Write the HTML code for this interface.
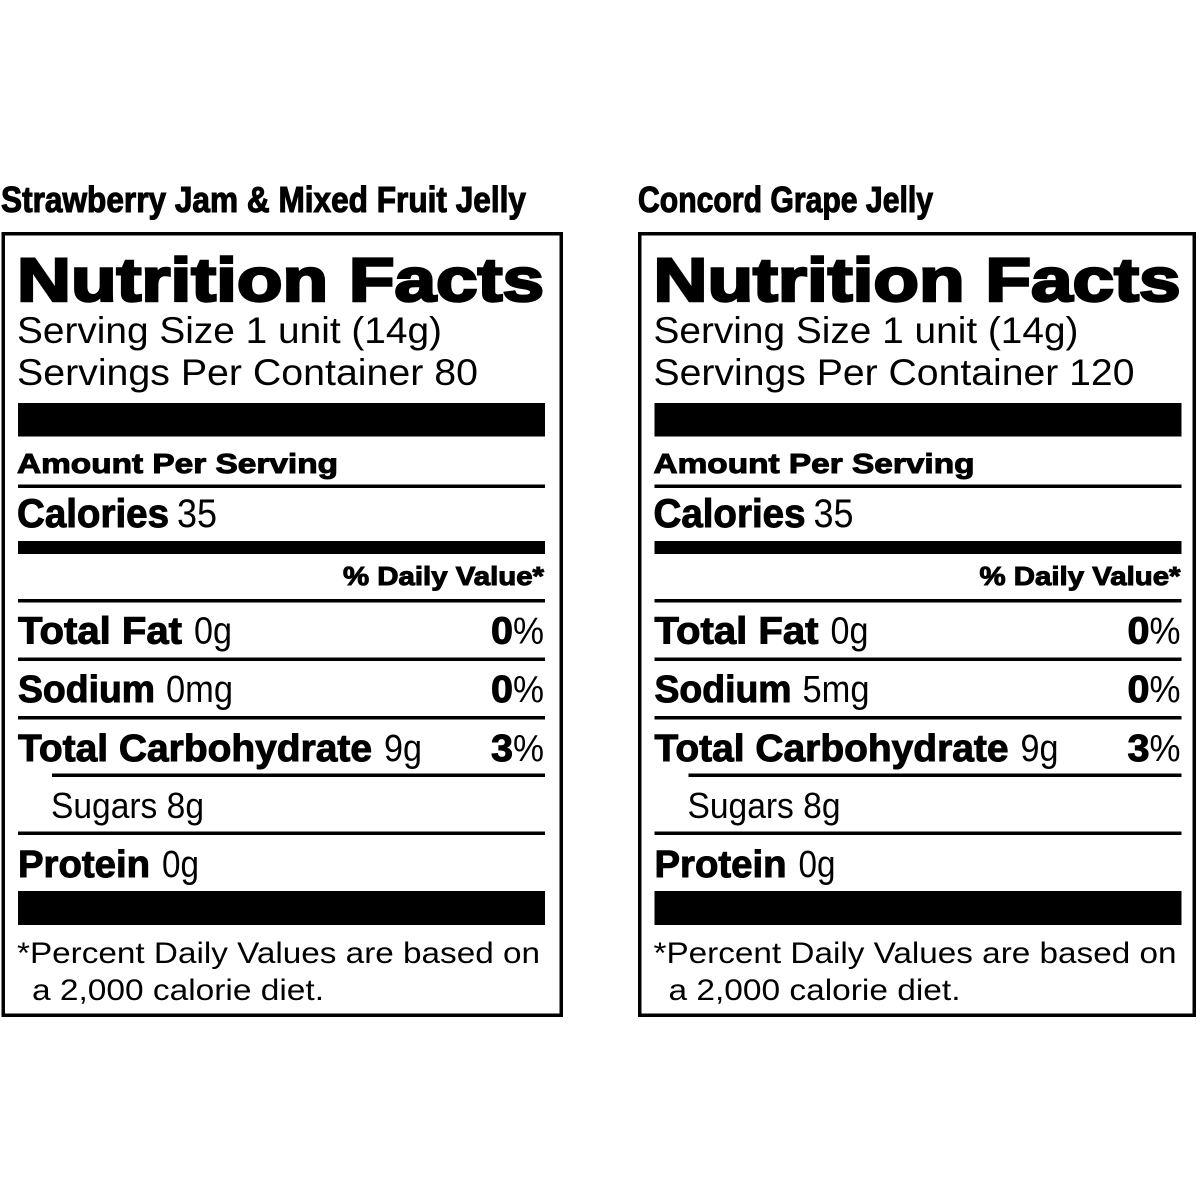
<!DOCTYPE html>
<html>
<head>
<meta charset="utf-8">
<style>
  html, body { margin:0; padding:0; background:#fff; }
  svg { display:block; }
  .b { font-family:"Liberation Sans", Arial, sans-serif; font-weight:bold; fill:#000; stroke:#000; stroke-width:1.0; }
  .r { font-family:"Liberation Sans", Arial, sans-serif; font-weight:normal; fill:#000; }
  .t { font-family:"Liberation Sans Narrow", "Liberation Sans", Arial, sans-serif; font-weight:bold; fill:#000; stroke:#000; stroke-width:1.1; }
</style>
</head>
<body>
<svg width="1200" height="1200" viewBox="0 0 1200 1200" xmlns="http://www.w3.org/2000/svg">
  <rect x="0" y="0" width="1200" height="1200" fill="#fff"/>

  <!-- Titles -->
  <text class="t" x="1" y="212" font-size="36" textLength="525" lengthAdjust="spacingAndGlyphs">Strawberry Jam &amp; Mixed Fruit Jelly</text>
  <text class="t" x="638" y="212" font-size="36" textLength="295" lengthAdjust="spacingAndGlyphs">Concord Grape Jelly</text>

  <!-- Boxes -->
  <rect x="3.25" y="233.75" width="558" height="781.5" fill="none" stroke="#000" stroke-width="3.5"/>
  <rect x="639.75" y="233.75" width="554.5" height="781.5" fill="none" stroke="#000" stroke-width="3.5"/>

  <!-- LEFT PANEL -->
  <g>
    <text class="b" x="17" y="301" font-size="61" textLength="527" lengthAdjust="spacingAndGlyphs" style="stroke-width:2.5">Nutrition Facts</text>
    <text class="r" x="17" y="343" font-size="37" textLength="425" lengthAdjust="spacingAndGlyphs">Serving Size 1 unit (14g)</text>
    <text class="r" x="17" y="385" font-size="37" textLength="461" lengthAdjust="spacingAndGlyphs">Servings Per Container 80</text>
    <rect x="18" y="403" width="527" height="33.5" fill="#000"/>
    <text class="b" x="17" y="473" font-size="28" textLength="321" lengthAdjust="spacingAndGlyphs">Amount Per Serving</text>
    <rect x="18" y="484.5" width="527" height="3.5" fill="#000"/>
    <text class="b" x="17" y="527" font-size="40" textLength="152" lengthAdjust="spacingAndGlyphs">Calories</text>
    <text class="r" x="177" y="527" font-size="40" textLength="40" lengthAdjust="spacingAndGlyphs">35</text>
    <rect x="18" y="541" width="527" height="13" fill="#000"/>
    <text class="b" x="343" y="585" font-size="26" textLength="201" lengthAdjust="spacingAndGlyphs">% Daily Value*</text>
    <rect x="18" y="599" width="527" height="3.5" fill="#000"/>

    <text class="b" x="18" y="643.5" font-size="38" textLength="164" lengthAdjust="spacingAndGlyphs">Total Fat</text>
    <text class="r" x="194" y="643.5" font-size="38" textLength="38" lengthAdjust="spacingAndGlyphs">0g</text>
    <text class="b" x="491" y="643.5" font-size="38" textLength="22" lengthAdjust="spacingAndGlyphs">0</text>
    <text class="r" x="513" y="643.5" font-size="38" textLength="31" lengthAdjust="spacingAndGlyphs">%</text>
    <rect x="18" y="657.5" width="527" height="3.5" fill="#000"/>

    <text class="b" x="18" y="702" font-size="38" textLength="137" lengthAdjust="spacingAndGlyphs">Sodium</text>
    <text class="r" x="166" y="702" font-size="38" textLength="67" lengthAdjust="spacingAndGlyphs">0mg</text>
    <text class="b" x="491" y="702" font-size="38" textLength="22" lengthAdjust="spacingAndGlyphs">0</text>
    <text class="r" x="513" y="702" font-size="38" textLength="31" lengthAdjust="spacingAndGlyphs">%</text>
    <rect x="18" y="716" width="527" height="3.5" fill="#000"/>

    <text class="b" x="18" y="761" font-size="38" textLength="354" lengthAdjust="spacingAndGlyphs">Total Carbohydrate</text>
    <text class="r" x="384" y="761" font-size="38" textLength="38" lengthAdjust="spacingAndGlyphs">9g</text>
    <text class="b" x="491" y="761" font-size="38" textLength="22" lengthAdjust="spacingAndGlyphs">3</text>
    <text class="r" x="513" y="761" font-size="38" textLength="31" lengthAdjust="spacingAndGlyphs">%</text>
    <rect x="52" y="773.5" width="493" height="3.5" fill="#000"/>

    <text class="r" x="51" y="818" font-size="36" textLength="153" lengthAdjust="spacingAndGlyphs">Sugars 8g</text>
    <rect x="18" y="831.5" width="527" height="3.5" fill="#000"/>

    <text class="b" x="18" y="877" font-size="38" textLength="132" lengthAdjust="spacingAndGlyphs">Protein</text>
    <text class="r" x="162" y="877" font-size="38" textLength="37" lengthAdjust="spacingAndGlyphs">0g</text>
    <rect x="18" y="891" width="527" height="34" fill="#000"/>

    <text class="r" x="17" y="963" font-size="30" textLength="523" lengthAdjust="spacingAndGlyphs">*Percent Daily Values are based on</text>
    <text class="r" x="32" y="1000" font-size="30" textLength="292" lengthAdjust="spacingAndGlyphs">a 2,000 calorie diet.</text>
  </g>

  <!-- RIGHT PANEL -->
  <g transform="translate(636.5,0)">
    <text class="b" x="17" y="301" font-size="61" textLength="527" lengthAdjust="spacingAndGlyphs" style="stroke-width:2.5">Nutrition Facts</text>
    <text class="r" x="17" y="343" font-size="37" textLength="425" lengthAdjust="spacingAndGlyphs">Serving Size 1 unit (14g)</text>
    <text class="r" x="17" y="385" font-size="37" textLength="481" lengthAdjust="spacingAndGlyphs">Servings Per Container 120</text>
    <rect x="18" y="403" width="527" height="33.5" fill="#000"/>
    <text class="b" x="17" y="473" font-size="28" textLength="321" lengthAdjust="spacingAndGlyphs">Amount Per Serving</text>
    <rect x="18" y="484.5" width="527" height="3.5" fill="#000"/>
    <text class="b" x="17" y="527" font-size="40" textLength="152" lengthAdjust="spacingAndGlyphs">Calories</text>
    <text class="r" x="177" y="527" font-size="40" textLength="40" lengthAdjust="spacingAndGlyphs">35</text>
    <rect x="18" y="541" width="527" height="13" fill="#000"/>
    <text class="b" x="343" y="585" font-size="26" textLength="201" lengthAdjust="spacingAndGlyphs">% Daily Value*</text>
    <rect x="18" y="599" width="527" height="3.5" fill="#000"/>

    <text class="b" x="18" y="643.5" font-size="38" textLength="164" lengthAdjust="spacingAndGlyphs">Total Fat</text>
    <text class="r" x="194" y="643.5" font-size="38" textLength="38" lengthAdjust="spacingAndGlyphs">0g</text>
    <text class="b" x="491" y="643.5" font-size="38" textLength="22" lengthAdjust="spacingAndGlyphs">0</text>
    <text class="r" x="513" y="643.5" font-size="38" textLength="31" lengthAdjust="spacingAndGlyphs">%</text>
    <rect x="18" y="657.5" width="527" height="3.5" fill="#000"/>

    <text class="b" x="18" y="702" font-size="38" textLength="137" lengthAdjust="spacingAndGlyphs">Sodium</text>
    <text class="r" x="166" y="702" font-size="38" textLength="67" lengthAdjust="spacingAndGlyphs">5mg</text>
    <text class="b" x="491" y="702" font-size="38" textLength="22" lengthAdjust="spacingAndGlyphs">0</text>
    <text class="r" x="513" y="702" font-size="38" textLength="31" lengthAdjust="spacingAndGlyphs">%</text>
    <rect x="18" y="716" width="527" height="3.5" fill="#000"/>

    <text class="b" x="18" y="761" font-size="38" textLength="354" lengthAdjust="spacingAndGlyphs">Total Carbohydrate</text>
    <text class="r" x="384" y="761" font-size="38" textLength="38" lengthAdjust="spacingAndGlyphs">9g</text>
    <text class="b" x="491" y="761" font-size="38" textLength="22" lengthAdjust="spacingAndGlyphs">3</text>
    <text class="r" x="513" y="761" font-size="38" textLength="31" lengthAdjust="spacingAndGlyphs">%</text>
    <rect x="52" y="773.5" width="493" height="3.5" fill="#000"/>

    <text class="r" x="51" y="818" font-size="36" textLength="153" lengthAdjust="spacingAndGlyphs">Sugars 8g</text>
    <rect x="18" y="831.5" width="527" height="3.5" fill="#000"/>

    <text class="b" x="18" y="877" font-size="38" textLength="132" lengthAdjust="spacingAndGlyphs">Protein</text>
    <text class="r" x="162" y="877" font-size="38" textLength="37" lengthAdjust="spacingAndGlyphs">0g</text>
    <rect x="18" y="891" width="527" height="34" fill="#000"/>

    <text class="r" x="17" y="963" font-size="30" textLength="523" lengthAdjust="spacingAndGlyphs">*Percent Daily Values are based on</text>
    <text class="r" x="32" y="1000" font-size="30" textLength="292" lengthAdjust="spacingAndGlyphs">a 2,000 calorie diet.</text>
  </g>
</svg>
</body>
</html>
